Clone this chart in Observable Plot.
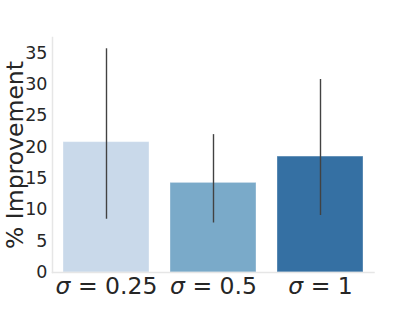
<!DOCTYPE html>
<html>
<head>
<meta charset="utf-8">
<script src="https://cdn.jsdelivr.net/npm/d3@7"></script>
<script src="https://cdn.jsdelivr.net/npm/@observablehq/plot@0.6"></script>
<style>
  html, body { margin: 0; padding: 0; background: #fff; }
  svg { font-family: "DejaVu Sans", sans-serif; }
</style>
</head>
<body>
<div id="chart"></div>
<script>
const categories = ["0.25", "0.5", "1"];
const means = [20.8, 14.3, 18.5];
const lows = [8.5, 7.9, 9.1];
const highs = [35.7, 22.0, 30.8];
const barColors = ["#c9d9ea", "#7aaac9", "#3570a3"];
const yTicks = [0, 5, 10, 15, 20, 25, 30, 35];

const data = categories.map((c, i) => ({cat: c, mean: means[i], lo: lows[i], hi: highs[i], color: barColors[i]}));

const chart = Plot.plot({
  width: 415,
  height: 312,
  marginLeft: 52,
  marginRight: 41.5,
  marginTop: 37,
  marginBottom: 40,
  style: {fontFamily: "DejaVu Sans, sans-serif", background: "#fff"},
  x: {domain: categories, paddingInner: 0.2, paddingOuter: 0.1, label: null},
  y: {domain: [0, 37.5], label: null},
  marks: [
    Plot.barY(data, {x: "cat", y: "mean", fill: "color", stroke: "white", strokeOpacity: 0.35, strokeWidth: 1}),
    Plot.ruleX(data, {x: "cat", y1: "lo", y2: "hi", stroke: "#424242", strokeWidth: 1.4}),
    Plot.frame({anchor: "left", stroke: "#e6e6e6", strokeWidth: 1.5}),
    Plot.frame({anchor: "bottom", stroke: "#e6e6e6", strokeWidth: 1.5}),
    Plot.axisY({ticks: yTicks, tickSize: 0, tickPadding: 5, fontSize: 17.5, fill: "#262626", label: null}),
    Plot.axisX({tickSize: 0, tickPadding: 5, fontSize: 23.5, fill: "#262626", label: null,
      tickFormat: d => "σ = " + d}),
    Plot.text(["% Improvement"], {frameAnchor: "left", dx: -37.5, rotate: -90, fontSize: 23.5, fill: "#262626", textAnchor: "middle"})
  ]
});

// italicize sigma in x tick labels
chart.querySelectorAll("g[aria-label='x-axis tick label'] text").forEach(t => {
  const s = t.textContent;
  if (s.startsWith("σ")) {
    t.textContent = "";
    const a = document.createElementNS("http://www.w3.org/2000/svg", "tspan");
    a.setAttribute("font-style", "italic");
    a.textContent = "σ";
    const b = document.createElementNS("http://www.w3.org/2000/svg", "tspan");
    b.textContent = s.slice(1);
    t.appendChild(a);
    t.appendChild(b);
  }
});

document.getElementById("chart").appendChild(chart);
</script>
</body>
</html>
